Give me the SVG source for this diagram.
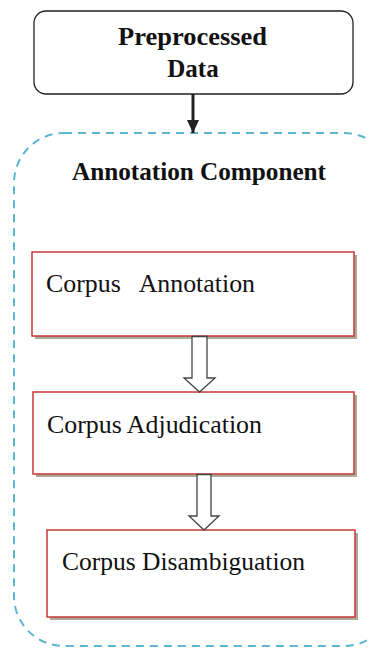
<svg xmlns="http://www.w3.org/2000/svg" width="369" height="648" viewBox="0 0 369 648">
  <defs>
    <style>
      .title { font-family: "Liberation Serif", "Times New Roman", serif; font-weight: bold; font-size: 25px; fill: #111; }
      .label { font-family: "Liberation Serif", "Times New Roman", serif; font-size: 25px; fill: #111; white-space: pre; }
      .step { fill: #fff; stroke: #c8383a; stroke-width: 1.5; }
      .shadow { fill: #a7ad97; }
      .hollow { fill: #fff; stroke: #444; stroke-width: 1.3; stroke-linejoin: miter; }
    </style>
    <marker id="head" markerWidth="13" markerHeight="12" refX="13" refY="6" orient="auto" markerUnits="userSpaceOnUse" viewBox="0 0 13 12">
      <path d="M0,0 L13,6 L0,12 Z" fill="#222"/>
    </marker>
  </defs>
  <rect width="369" height="648" fill="#fff"/>

  <!-- Annotation component container -->
  <g id="annotation-component">
    <rect x="14" y="133" width="380" height="513" rx="50" ry="50" fill="none" stroke="#5db6cf" stroke-width="2" stroke-dasharray="8,6"/>
    <text class="title" x="72" y="180" textLength="254" lengthAdjust="spacingAndGlyphs">Annotation Component</text>
  </g>

  <!-- Input node -->
  <g id="preprocessed-data">
    <rect x="34" y="11" width="319" height="83" rx="12" ry="12" fill="#fff" stroke="#222" stroke-width="1.3"/>
    <text class="title" x="118" y="45" textLength="149" lengthAdjust="spacingAndGlyphs">Preprocessed</text>
    <text class="title" x="193" y="77" text-anchor="middle">Data</text>
  </g>

  <!-- Steps -->
  <g id="corpus-annotation">
    <rect class="shadow" x="35" y="255" width="322" height="84"/>
    <rect class="step" x="32" y="252" width="322" height="84"/>
    <text class="label" x="46" y="292" xml:space="preserve" textLength="209" lengthAdjust="spacingAndGlyphs">Corpus   Annotation</text>
  </g>
  <g id="corpus-adjudication">
    <rect class="shadow" x="36" y="395" width="321" height="82"/>
    <rect class="step" x="33" y="392" width="321" height="82"/>
    <text class="label" x="47" y="433" textLength="215" lengthAdjust="spacingAndGlyphs">Corpus Adjudication</text>
  </g>
  <g id="corpus-disambiguation">
    <rect class="shadow" x="50" y="533" width="308" height="87"/>
    <rect class="step" x="47" y="530" width="308" height="87"/>
    <text class="label" x="62" y="570" textLength="243" lengthAdjust="spacingAndGlyphs">Corpus Disambiguation</text>
  </g>

  <!-- Connectors -->
  <g id="connectors">
    <line x1="193" y1="94" x2="193" y2="133" stroke="#222" stroke-width="3" marker-end="url(#head)"/>
    <path class="hollow" d="M192,336.5 L207,336.5 L207,378 L215,378 L199.5,392 L184,378 L192,378 Z"/>
    <path class="hollow" d="M197,474.5 L211,474.5 L211,516 L219,516 L204,530 L189,516 L197,516 Z"/>
  </g>
</svg>
